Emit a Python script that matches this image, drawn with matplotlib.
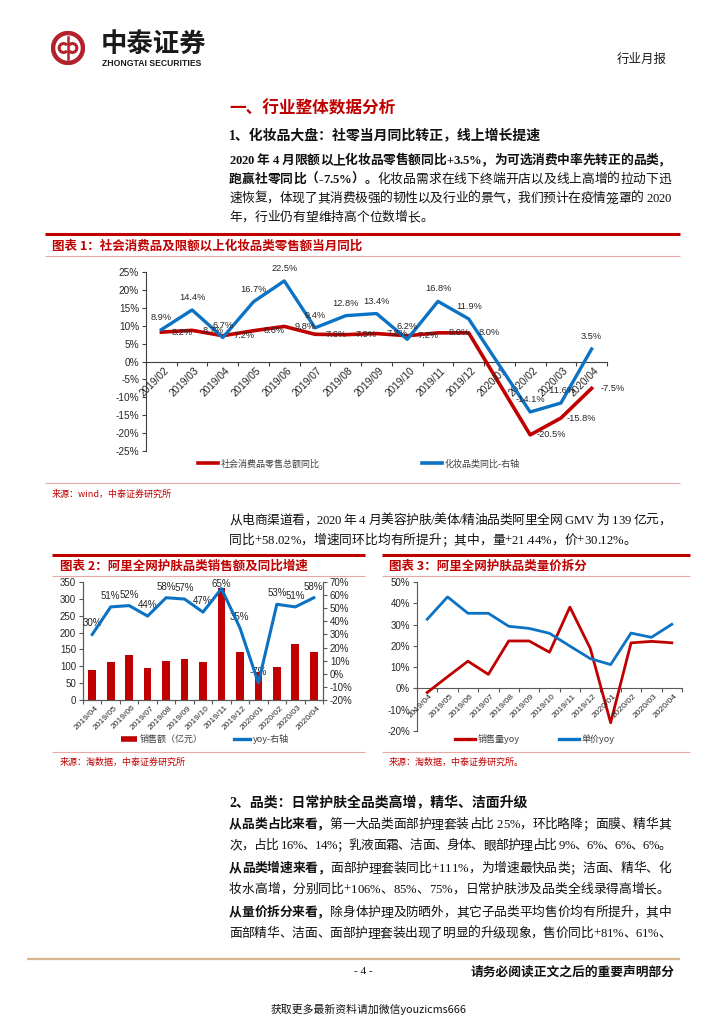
import numpy as np
import matplotlib
matplotlib.use('Agg')
import matplotlib.pyplot as plt
from matplotlib.lines import Line2D
from matplotlib.patches import Circle, Arc

plt.rcParams['font.family'] = ['Liberation Sans', 'Noto Sans CJK SC']
plt.rcParams['axes.unicode_minus'] = False

W, H = 724, 1024
RED = '#C00000'
BLUE = '#0B72C4'
PINK = '#E8A8A8'
DARK = '#262626'
BODY = ['Liberation Serif', 'Noto Sans CJK SC']
CJK = ['Noto Sans CJK SC', 'Liberation Sans']

# ---- chart 1: 社零 vs 化妆品 当月同比
months1 = ['2019/02', '2019/03', '2019/04', '2019/05', '2019/06', '2019/07', '2019/08',
           '2019/09', '2019/10', '2019/11', '2019/12', '2020/01', '2020/02', '2020/03', '2020/04']
retail_yoy = [8.2, 8.7, 7.2, 8.6, 9.8, 7.6, 7.5, 7.8, 7.2, 8.0, 8.0, None, -20.5, -15.8, -7.5]
cosm_yoy = [8.9, 14.4, 6.7, 16.7, 22.5, 9.4, 12.8, 13.4, 6.2, 16.8, 11.9, None, -14.1, -11.6, 3.5]
legend1 = ['社会消费品零售总额同比', '化妆品类同比-右轴']

# ---- chart 2 / 3: 阿里全网护肤
months2 = ['2019/04', '2019/05', '2019/06', '2019/07', '2019/08', '2019/09', '2019/10',
           '2019/11', '2019/12', '2020/01', '2020/02', '2020/03', '2020/04']
gmv = [89, 112, 133, 95, 115, 121, 113, 331, 141, 83, 98, 166, 141]
gmv_yoy = [30, 51, 52, 44, 58, 57, 47, 65, 35, -7, 53, 51, 58]
legend2 = ['销售额（亿元）', 'yoy-右轴']
vol_yoy = [-1.9, 5.5, 12.8, 6.6, 22.3, 22.3, 17.0, 38.2, 18.8, -16.1, 21.4, 22.1, 21.44]
price_yoy = [32.5, 43.0, 35.3, 35.3, 29.2, 28.2, 25.9, 19.9, 14.0, 11.2, 26.0, 24.0, 30.12]
legend3 = ['销售量yoy', '单价yoy']


def fy(y):
    return 1 - y / H


def frect(l, t, r, b):
    return [l / W, 1 - b / H, (r - l) / W, (b - t) / H]


fig = plt.figure(figsize=(7.24, 10.24), dpi=100)
fig.patch.set_facecolor('white')
renderer = fig.canvas.get_renderer()


def hline(y, x0, x1, color, lw):
    fig.add_artist(Line2D([x0 / W, x1 / W], [fy(y), fy(y)], transform=fig.transFigure,
                          color=color, lw=lw, solid_capstyle='butt'))


def put_line(x0, x1, y, parts, size=9.2, justify=True, color='#111111'):
    items = []
    for s, bold in parts:
        for ch in s:
            t = fig.text(0, fy(y), ch, fontsize=size, family=BODY, color=color,
                         fontweight='bold' if bold else 'normal', va='center', ha='left')
            if ch == ' ':
                w = size * 0.25 * 100 / 72
            else:
                w = t.get_window_extent(renderer).width
            items.append((t, w))
    total = sum(w for _, w in items)
    gap = (x1 - x0 - total) / (len(items) - 1) if justify and len(items) > 1 else 0
    x = x0
    for t, w in items:
        t.set_x(x / W)
        x += w + gap


def cat_labels(ax, labels, size, dx=1.5, dy=-3):
    # rotated category labels hanging from the x axis line (y = 0)
    ax.set_xticks(np.arange(len(labels)))
    ax.set_xticklabels([])
    for i, lab in enumerate(labels):
        ax.annotate(lab, (i, 0), xytext=(dx, dy), textcoords='offset points', rotation=45,
                    ha='right', va='top', rotation_mode='anchor', fontsize=size, color=DARK,
                    annotation_clip=False)


# ---- page header
lax = fig.add_axes(frect(51, 31, 85, 65))
lax.set_xlim(-1, 1)
lax.set_ylim(-1, 1)
lax.set_aspect('equal')
lax.axis('off')
LOGO = '#B3222C'
lax.add_patch(Circle((0, 0), 0.88, fill=False, ec=LOGO, lw=3.2))
lax.plot([0, 0], [-0.62, 0.62], color=LOGO, lw=1.8)
lax.add_patch(Arc((-0.26, 0), 0.52, 0.52, theta1=40, theta2=320, color=LOGO, lw=2.2))
lax.add_patch(Arc((0.26, 0), 0.52, 0.52, theta1=220, theta2=140, color=LOGO, lw=2.2))
fig.text(101 / W, fy(44), '中泰证券', fontsize=19, fontweight='bold', family=CJK,
         color='#1a1a1a', va='center', ha='left')
fig.text(102 / W, fy(63), 'ZHONGTAI SECURITIES', fontsize=6.2, fontweight='bold',
         color='#1a1a1a', va='center', ha='left')
fig.text(617 / W, fy(60), '行业月报', fontsize=9, family=BODY, color='#1a1a1a', va='center')

fig.text(229 / W, fy(108), '一、行业整体数据分析', fontsize=12, fontweight='bold',
         family=CJK, color=RED, va='center')
fig.text(229 / W, fy(136), '1、化妆品大盘：社零当月同比转正，线上增长提速', fontsize=10,
         fontweight='bold', family=BODY, color='#111111', va='center')

X0, X1 = 229, 671
put_line(X0, X1, 161, [('2020 年 4 月限额以上化妆品零售额同比+3.5%，为可选消费中率先转正的品类，', True)])
put_line(X0, X1, 180, [('跑赢社零同比（-7.5%）。', True), ('化妆品需求在线下终端开店以及线上高增的拉动下迅', False)])
put_line(X0, X1, 199, [('速恢复，体现了其消费极强的韧性以及行业的景气，我们预计在疫情笼罩的 2020', False)])
put_line(X0, X1, 218, [('年，行业仍有望维持高个位数增长。', False)], justify=False)

# ---- chart 1 frame
hline(234, 45, 680, RED, 2.2)
fig.text(52 / W, fy(246), '图表 1：社会消费品及限额以上化妆品类零售额当月同比', fontsize=9,
         fontweight='bold', style='italic', family=CJK, color=RED, va='center')
hline(256, 45, 680, PINK, 0.8)
hline(483, 45, 680, PINK, 0.8)
fig.text(52 / W, fy(494), '来源：wind，中泰证券研究所', fontsize=6.5, family=CJK, color=RED, va='center')

ax1 = fig.add_axes(frect(146, 272, 607, 451))
ok = [i for i, v in enumerate(retail_yoy) if v is not None]
ax1.plot(ok, [retail_yoy[i] for i in ok], color=RED, lw=2.6, zorder=3)
ok2 = [i for i, v in enumerate(cosm_yoy) if v is not None]
ax1.plot(ok2, [cosm_yoy[i] for i in ok2], color=BLUE, lw=2.4, zorder=4)
for i in ok:
    ax1.annotate(f'{retail_yoy[i]:.1f}%', (i, retail_yoy[i]), xytext=(15, 0), textcoords='offset points',
                 ha='center', va='center', fontsize=6.7, color=DARK, zorder=5)
for i in ok2:
    ax1.annotate(f'{cosm_yoy[i]:.1f}%', (i, cosm_yoy[i]), xytext=(0, 9), textcoords='offset points',
                 ha='center', va='center', fontsize=6.7, color=DARK, zorder=5)
ax1.set_xlim(-0.5, len(months1) - 0.5)
ax1.set_ylim(-25, 25)
ax1.set_yticks(range(-25, 26, 5))
ax1.set_yticklabels([f'{v}%' for v in range(-25, 26, 5)])
cat_labels(ax1, months1, 7.3, dx=1.5, dy=-3)
ax1.set_xticks(np.arange(-0.5, len(months1), 1), minor=True)
for s in ['top', 'right']:
    ax1.spines[s].set_visible(False)
ax1.spines['bottom'].set_position(('data', 0))
for s in ['left', 'bottom']:
    ax1.spines[s].set_color('#404040')
    ax1.spines[s].set_linewidth(0.8)
ax1.tick_params(axis='y', length=3, width=0.8, color='#404040', labelsize=7.2, pad=2, labelcolor=DARK)
ax1.tick_params(axis='x', which='major', length=0)
ax1.tick_params(axis='x', which='minor', length=3, width=0.8, color='#404040')
ax1.patch.set_alpha(0)
h1 = [Line2D([], [], color=RED, lw=2.6), Line2D([], [], color=BLUE, lw=2.6)]
fig.legend(h1, legend1, loc='center', bbox_to_anchor=(359 / W, fy(464)), ncol=2, frameon=False,
           prop={'family': CJK, 'size': 6.5}, labelcolor='#404040', handlelength=2.2,
           handletextpad=0.3, columnspacing=11.3, borderpad=0)

# ---- paragraph 2
put_line(X0, X1, 521, [('从电商渠道看，2020 年 4 月美容护肤/美体/精油品类阿里全网 GMV 为 139 亿元，', False)])
put_line(X0, X1, 541, [('同比+58.02%，增速同环比均有所提升；其中，量+21.44%，价+30.12%。', False)], justify=False)

# ---- chart 2 frame
hline(555, 52, 365, RED, 2.2)
fig.text(60 / W, fy(566), '图表 2：阿里全网护肤品类销售额及同比增速', fontsize=9,
         fontweight='bold', style='italic', family=CJK, color=RED, va='center')
hline(576, 52, 365, PINK, 0.8)
hline(752, 52, 365, PINK, 0.8)
fig.text(60 / W, fy(762), '来源：淘数据，中泰证券研究所', fontsize=6.5, family=CJK, color=RED, va='center')

ax2 = fig.add_axes(frect(83, 582, 323, 700))
x2 = np.arange(len(months2))
ax2.bar(x2, gmv, width=0.42, color=RED, zorder=2)
ax2.set_xlim(-0.5, len(months2) - 0.5)
ax2.set_ylim(0, 350)
ax2.set_yticks(range(0, 351, 50))
cat_labels(ax2, months2, 6.1, dx=2, dy=-3)
ax2.set_xticks(np.arange(-0.5, len(months2), 1), minor=True)
ax2r = ax2.twinx()
ax2r.plot(x2, gmv_yoy, color=BLUE, lw=2.2, zorder=4)
for i, v in enumerate(gmv_yoy):
    ax2r.text(i, min(v + 8.4, 68.5), f'{v}%', ha='center', va='center', fontsize=7, color=DARK)
ax2r.set_ylim(-20, 70)
ax2r.set_yticks(range(-20, 71, 10))
ax2r.set_yticklabels([f'{v}%' for v in range(-20, 71, 10)])
for a in (ax2, ax2r):
    a.spines['top'].set_visible(False)
    for s in ['left', 'bottom', 'right']:
        a.spines[s].set_color('#595959')
        a.spines[s].set_linewidth(0.8)
ax2.tick_params(axis='y', length=3, width=0.8, color='#595959', labelsize=7, pad=2, labelcolor=DARK)
ax2r.tick_params(axis='y', length=3, width=0.8, color='#595959', labelsize=7, pad=2, labelcolor=DARK)
ax2.tick_params(axis='x', which='major', length=0)
ax2.tick_params(axis='x', which='minor', length=3, width=0.8, color='#595959')
h2 = [Line2D([], [], color=RED, lw=4, solid_capstyle='butt'), Line2D([], [], color=BLUE, lw=2.4)]
fig.legend(h2, legend2, loc='center', bbox_to_anchor=(205 / W, fy(739)), ncol=2, frameon=False,
           prop={'family': CJK, 'size': 6.5}, labelcolor='#404040', handlelength=1.8,
           handletextpad=0.3, columnspacing=3.5, borderpad=0)

# ---- chart 3 frame
hline(555, 382, 690, RED, 2.2)
fig.text(389 / W, fy(566), '图表 3：阿里全网护肤品类量价拆分', fontsize=9,
         fontweight='bold', style='italic', family=CJK, color=RED, va='center')
hline(576, 382, 690, PINK, 0.8)
hline(752, 382, 690, PINK, 0.8)
fig.text(389 / W, fy(762), '来源：淘数据，中泰证券研究所。', fontsize=6.5, family=CJK, color=RED, va='center')

ax3 = fig.add_axes(frect(417, 582, 682, 731))
ax3.plot(x2, vol_yoy, color=RED, lw=2.0, zorder=3)
ax3.plot(x2, price_yoy, color=BLUE, lw=2.0, zorder=4)
ax3.set_xlim(-0.5, len(months2) - 0.5)
ax3.set_ylim(-20, 50)
ax3.set_yticks(range(-20, 51, 10))
ax3.set_yticklabels([f'{v}%' for v in range(-20, 51, 10)])
cat_labels(ax3, months2, 6.1)
ax3.set_xticks(np.arange(-0.5, len(months2), 1), minor=True)
for s in ['top', 'right']:
    ax3.spines[s].set_visible(False)
ax3.spines['bottom'].set_position(('data', 0))
for s in ['left', 'bottom']:
    ax3.spines[s].set_color('#595959')
    ax3.spines[s].set_linewidth(0.8)
ax3.tick_params(axis='y', length=3, width=0.8, color='#595959', labelsize=7, pad=2, labelcolor=DARK)
ax3.tick_params(axis='x', which='major', length=0)
ax3.tick_params(axis='x', which='minor', length=3, width=0.8, color='#595959')
ax3.patch.set_alpha(0)
h3 = [Line2D([], [], color=RED, lw=2.4), Line2D([], [], color=BLUE, lw=2.4)]
fig.legend(h3, legend3, loc='center', bbox_to_anchor=(535 / W, fy(739)), ncol=2, frameon=False,
           prop={'family': CJK, 'size': 6.5}, labelcolor='#404040', handlelength=2.2,
           handletextpad=0.3, columnspacing=4.4, borderpad=0)

# ---- section 2
fig.text(229 / W, fy(803), '2、品类：日常护肤全品类高增，精华、洁面升级', fontsize=10,
         fontweight='bold', family=BODY, color='#111111', va='center')
put_line(X0, X1, 825, [('从品类占比来看，', True), ('第一大品类面部护理套装占比 25%，环比略降；面膜、精华其', False)])
put_line(X0, X1, 846, [('次，占比 16%、14%；乳液面霜、洁面、身体、眼部护理占比 9%、6%、6%、6%。', False)])
put_line(X0, X1, 869, [('从品类增速来看，', True), ('面部护理套装同比+111%，为增速最快品类；洁面、精华、化', False)])
put_line(X0, X1, 890, [('妆水高增，分别同比+106%、85%、75%，日常护肤涉及品类全线录得高增长。', False)], justify=False)
put_line(X0, X1, 913, [('从量价拆分来看，', True), ('除身体护理及防晒外，其它子品类平均售价均有所提升，其中', False)])
put_line(X0, X1, 934, [('面部精华、洁面、面部护理套装出现了明显的升级现象，售价同比+81%、61%、', False)])

# ---- footer
hline(959, 27, 680, '#D9B58F', 1.6)
fig.text(363 / W, fy(972), '- 4 -', fontsize=8, family=BODY, color='#111111', ha='center', va='center')
fig.text(471 / W, fy(972), '请务必阅读正文之后的重要声明部分', fontsize=9.2, fontweight='bold',
         family=CJK, color='#111111', va='center')
fig.text(271 / W, fy(1009), '获取更多最新资料请加微信youzicms666', fontsize=7.8,
         family=['Noto Sans CJK SC', 'Liberation Serif'], color='#111111', va='center')

fig.savefig('out.png', dpi=100, facecolor='white')
